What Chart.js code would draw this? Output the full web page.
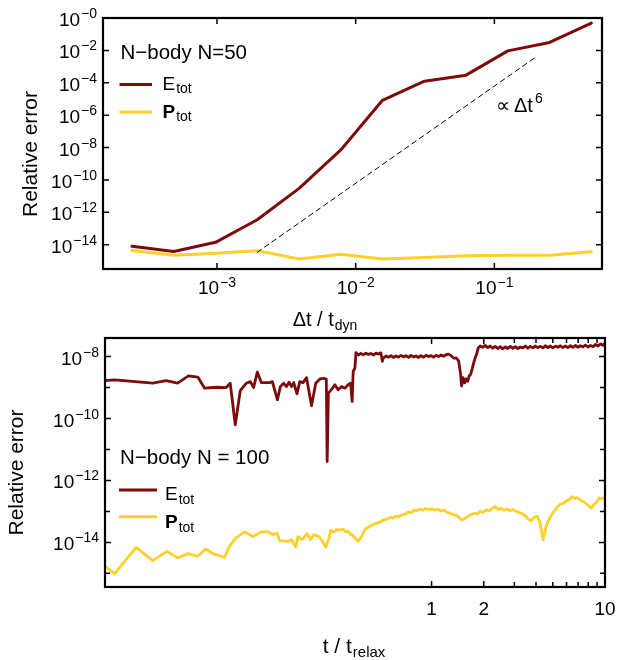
<!DOCTYPE html>
<html>
<head>
<meta charset="utf-8">
<script src="https://cdn.jsdelivr.net/npm/chart.js@4.4.1/dist/chart.umd.min.js"></script>
<style>
  body { margin: 0; background: #fff; }
  #wrap { position: relative; width: 626px; height: 660px; overflow: hidden; }
  canvas { position: absolute; left: 0; }
</style>
</head>
<body>
<div id="wrap">
  <canvas id="top" width="626" height="340" style="top:0"></canvas>
  <canvas id="bottom" width="626" height="330" style="top:330px"></canvas>
</div>
<script>
// ---- top panel: error vs step size ----
const dtSteps = [2.44e-4, 4.88e-4, 9.77e-4, 1.95e-3, 3.91e-3, 7.81e-3, 1.56e-2, 3.13e-2, 6.25e-2, 0.125, 0.25, 0.5];
const errEnergyDt = [7.9e-15, 3.8e-15, 1.4e-14, 3.5e-13, 3.0e-11, 7.1e-9, 8.3e-6, 1.26e-4, 2.95e-4, 9.3e-3, 3.1e-2, 0.49];
const errMomentumDt = [4.4e-15, 2.2e-15, 3.0e-15, 4.3e-15, 1.3e-15, 2.6e-15, 1.3e-15, 1.6e-15, 2.1e-15, 2.2e-15, 2.2e-15, 3.7e-15];
const slopeDt = [1.95e-3, 0.2];
const slopeErr = [3.4e-15, 4.0e-3];

const topYTickExp = [0, -2, -4, -6, -8, -10, -12, -14];
const topYTickText = ['\u22120', '\u22122', '\u22124', '\u22126', '\u22128', '\u221210', '\u221212', '\u221214'];
const topXTickExp = [-3, -2, -1];
const topXTickText = ['\u22123', '\u22122', '\u22121'];

// ---- bottom panel: error vs time (log10 values) ----
const logTimeE = [
  -1.887, -1.827, -1.608, -1.531, -1.464, -1.402, -1.348, -1.309, -1.242, -1.184,
  -1.161, -1.132, -1.103, -1.068, -1.045, -1.026, -1.005, -0.982, -0.934, -0.918,
  -0.889, -0.872, -0.853, -0.837, -0.822, -0.808, -0.795, -0.776, -0.760, -0.741,
  -0.721, -0.692, -0.668, -0.645, -0.625, -0.607, -0.602, -0.595, -0.571, -0.558,
  -0.539, -0.519, -0.500, -0.481, -0.467, -0.458, -0.452, -0.442,
  -0.436, -0.422, -0.408, -0.393, -0.379, -0.364, -0.350, -0.335, -0.321, -0.306,
  -0.292, -0.284, -0.278, -0.263, -0.249, -0.234, -0.220, -0.205, -0.191, -0.176,
  -0.162, -0.147, -0.133, -0.119, -0.104, -0.090, -0.075, -0.061, -0.046, -0.032,
  -0.017, -0.003, 0.012, 0.026, 0.041, 0.055, 0.069, 0.084, 0.098, 0.113,
  0.127, 0.142, 0.156, 0.167, 0.173, 0.182, 0.191, 0.199, 0.208, 0.217,
  0.225, 0.234, 0.243, 0.251, 0.260, 0.269, 0.280, 0.295, 0.309, 0.324,
  0.338, 0.353, 0.367, 0.382, 0.396, 0.410, 0.425, 0.439, 0.454, 0.468,
  0.483, 0.497, 0.512, 0.526, 0.541, 0.555, 0.569, 0.584, 0.598, 0.613,
  0.627, 0.642, 0.656, 0.671, 0.685, 0.699, 0.714, 0.728, 0.743, 0.757,
  0.772, 0.786, 0.801, 0.815, 0.830, 0.844, 0.858, 0.873, 0.887, 0.902,
  0.916, 0.931, 0.945, 0.960, 0.974, 0.988, 1.000
];
const logErrE = [
  -8.78, -8.75, -8.86, -8.78, -8.86, -8.62, -8.66, -9.02, -8.99, -9.00,
  -8.86, -10.20, -9.10, -8.86, -8.81, -9.00, -8.50, -8.84, -8.84, -8.81,
  -9.40, -8.97, -8.86, -8.97, -8.83, -8.97, -8.84, -9.20, -8.81, -8.84,
  -8.68, -9.59, -8.86, -8.73, -8.70, -8.73, -11.39, -9.18, -9.02, -8.91,
  -9.07, -8.97, -9.02, -8.91, -8.86, -9.45, -8.48, -8.37,
  -7.87, -7.95, -7.90, -7.94, -7.89, -7.93, -7.90, -7.95, -7.89, -7.92,
  -7.88, -8.15, -8.05, -7.98, -8.02, -7.97, -8.03, -7.98, -8.02, -7.96,
  -8.01, -7.97, -8.03, -7.96, -8.01, -7.98, -8.03, -7.97, -8.02, -7.96,
  -8.00, -7.97, -8.02, -7.96, -8.00, -7.95, -7.99, -7.94, -7.92, -7.97,
  -8.05, -8.04, -8.14, -8.55, -8.95, -8.68, -8.85, -8.72, -8.80, -8.62,
  -8.58, -8.40, -8.20, -8.05, -7.92, -7.72, -7.66, -7.70, -7.64, -7.71,
  -7.66, -7.73, -7.67, -7.74, -7.68, -7.75, -7.69, -7.74, -7.67, -7.73,
  -7.68, -7.74, -7.69, -7.72, -7.66, -7.73, -7.67, -7.72, -7.66, -7.71,
  -7.67, -7.72, -7.65, -7.71, -7.66, -7.72, -7.66, -7.70, -7.65, -7.71,
  -7.66, -7.71, -7.65, -7.70, -7.64, -7.70, -7.65, -7.69, -7.63, -7.69,
  -7.64, -7.68, -7.61, -7.66, -7.59, -7.64, -7.57
];
const logTimeP = [
  -1.887, -1.827, -1.704, -1.608, -1.527, -1.464, -1.402, -1.348, -1.303, -1.261,
  -1.194, -1.165, -1.130, -1.078, -1.030, -0.982, -0.943, -0.918, -0.891, -0.876,
  -0.828, -0.808, -0.783, -0.770, -0.745, -0.718, -0.698, -0.679, -0.649, -0.629,
  -0.610, -0.591, -0.583, -0.564, -0.548, -0.529, -0.510, -0.494, -0.481, -0.465,
  -0.452, -0.436, -0.423, -0.403, -0.384, -0.367, -0.346, -0.327, -0.309, -0.292,
  -0.275, -0.257, -0.240, -0.223, -0.205, -0.188, -0.171, -0.153, -0.136, -0.118,
  -0.101, -0.084, -0.066, -0.049, -0.032, -0.014, 0.003, 0.020, 0.038, 0.055,
  0.072, 0.090, 0.107, 0.124, 0.142, 0.159, 0.176, 0.194, 0.211, 0.228,
  0.246, 0.263, 0.280, 0.298, 0.315, 0.332, 0.350, 0.367, 0.384, 0.402,
  0.419, 0.436, 0.454, 0.471, 0.488, 0.506, 0.523, 0.540, 0.558, 0.575,
  0.592, 0.610, 0.624, 0.636, 0.643, 0.650, 0.659, 0.673, 0.691, 0.708,
  0.725, 0.743, 0.760, 0.777, 0.795, 0.810, 0.824, 0.841, 0.858, 0.876,
  0.893, 0.910, 0.922, 0.934, 0.951, 0.968, 0.983, 1.000
];
const logErrP = [
  -14.75, -15.01, -14.16, -14.59, -14.29, -14.50, -14.36, -14.45, -14.21, -14.36,
  -14.48, -14.13, -13.86, -13.66, -13.81, -13.66, -13.65, -13.75, -13.70, -13.94,
  -13.97, -13.91, -14.15, -13.81, -13.91, -13.72, -13.91, -13.75, -13.81, -13.97,
  -14.15, -13.86, -13.61, -13.66, -13.59, -13.60, -13.57, -13.66, -13.64, -13.75,
  -13.78, -13.90, -13.96, -13.80, -13.58, -13.52, -13.45, -13.40, -13.36, -13.33,
  -13.27, -13.25, -13.19, -13.22, -13.15, -13.17, -13.10, -13.09, -13.02, -13.04,
  -12.96, -12.98, -12.92, -12.96, -12.90, -12.95, -12.91, -12.96, -12.93, -12.99,
  -12.96, -13.03, -13.06, -13.10, -13.12, -13.20, -13.28, -13.22, -13.16, -13.10,
  -13.06, -13.08, -13.00, -13.02, -12.95, -12.98, -12.90, -12.84, -12.94, -12.90,
  -12.96, -12.92, -12.98, -12.94, -13.00, -13.04, -13.08, -13.14, -13.25, -13.30,
  -13.18, -13.16, -13.35, -13.70, -13.92, -13.75, -13.50, -13.30, -13.12, -12.98,
  -12.86, -12.76, -12.74, -12.66, -12.62, -12.52, -12.58, -12.56, -12.64, -12.68,
  -12.76, -12.84, -12.90, -12.78, -12.70, -12.56, -12.60, -12.52
];

const botYMajorExp = [-8, -10, -12, -14];
const botYMajorText = ['\u22128', '\u221210', '\u221212', '\u221214'];
const botYMinorExp = [-9, -11, -13, -15];
const botXMajor = [1, 2, 10];
const botXMajorText = ['1', '2', '10'];
const botXMinor = [3, 4, 5, 6, 7, 8, 9];

const colE = '#7d0a0a';
const colP = '#ffd02a';
const FONT = '"Liberation Sans", Arial, sans-serif';

function font(px, bold) {
    return (bold ? 'bold ' : '') + px + 'px ' + FONT;
}

// "10" with a raised exponent
function drawPow(ctx, x, baseY, supY, sup, align) {
    ctx.font = font(19);
    const w1 = ctx.measureText('10').width;
    ctx.font = font(14);
    const w2 = ctx.measureText(sup).width;
    const total = w1 + w2 + 1;
    let x0 = x;
    if (align === 'right') x0 = x - total;
    if (align === 'center') x0 = x - total / 2;
    ctx.textAlign = 'left';
    ctx.font = font(19);
    ctx.fillText('10', x0, baseY);
    ctx.font = font(14);
    ctx.fillText(sup, x0 + w1 + 1, supY);
}

// main text followed by a lowered subscript, returns the end x
function drawSub(ctx, x, y, main, sub, size, subSize, bold, drop) {
    ctx.textAlign = 'left';
    ctx.font = font(size, bold);
    ctx.fillText(main, x, y);
    const w = ctx.measureText(main).width;
    ctx.font = font(subSize);
    ctx.fillText(sub, x + w + 1, y + drop);
    return x + w + 1 + ctx.measureText(sub).width;
}

function legendLine(ctx, x1, x2, y, color) {
    ctx.strokeStyle = color;
    ctx.lineWidth = 3;
    ctx.beginPath();
    ctx.moveTo(x1, y);
    ctx.lineTo(x2, y);
    ctx.stroke();
}

function yTitle(ctx, cx, cy) {
    ctx.save();
    ctx.translate(cx, cy);
    ctx.rotate(-Math.PI / 2);
    ctx.font = font(21);
    ctx.textAlign = 'center';
    ctx.textBaseline = 'middle';
    ctx.fillText('Relative error', 0, 0);
    ctx.restore();
}

function framePlugin(cfg) {
    return {
        id: 'frame' + cfg.name,
        afterDatasetsDraw(chart) {
            const ctx = chart.ctx;
            const a = chart.chartArea;
            const xs = chart.scales.x;
            const ys = chart.scales.y;
            ctx.save();
            ctx.fillStyle = '#000';
            ctx.strokeStyle = '#000';
            ctx.lineWidth = 1.5;
            ctx.beginPath();
            cfg.yTicks.forEach(t => {
                const py = ys.getPixelForValue(t.v);
                ctx.moveTo(a.left, py); ctx.lineTo(a.left + t.len, py);
                ctx.moveTo(a.right, py); ctx.lineTo(a.right - t.len, py);
            });
            cfg.xTicks.forEach(t => {
                const px = xs.getPixelForValue(t.v);
                ctx.moveTo(px, a.bottom); ctx.lineTo(px, a.bottom - t.len);
                ctx.moveTo(px, a.top); ctx.lineTo(px, a.top + t.len);
            });
            ctx.stroke();
            ctx.lineWidth = 2.2;
            ctx.strokeRect(a.left, a.top, a.right - a.left, a.bottom - a.top);

            ctx.textBaseline = 'alphabetic';
            cfg.yLabels.forEach(l => {
                const py = ys.getPixelForValue(l.v);
                drawPow(ctx, a.left - 6, py + 8, py, l.text, 'right');
            });
            cfg.xLabels.forEach(l => {
                const px = xs.getPixelForValue(l.v);
                if (l.pow) {
                    drawPow(ctx, px, a.bottom + 25, a.bottom + 17.5, l.text, 'center');
                } else {
                    ctx.font = font(19);
                    ctx.textAlign = 'center';
                    ctx.fillText(l.text, px, a.bottom + 28);
                }
            });
            cfg.extra(ctx, chart);
            ctx.restore();
        }
    };
}

function makePanel(id, datasets, sc, pad, cfg) {
    return new Chart(document.getElementById(id), {
        type: 'line',
        data: { datasets: datasets },
        options: {
            responsive: false,
            animation: false,
            layout: { padding: pad },
            plugins: { legend: { display: false }, tooltip: { enabled: false } },
            elements: { point: { radius: 0 }, line: { tension: 0, borderJoinStyle: 'round', borderCapStyle: 'round' } },
            scales: {
                x: {
                    type: 'logarithmic', min: sc.xmin, max: sc.xmax,
                    ticks: { display: false }, grid: { display: false }, border: { display: false },
                    afterFit: s => { s.height = sc.xh; }
                },
                y: {
                    type: 'logarithmic', min: sc.ymin, max: sc.ymax,
                    ticks: { display: false }, grid: { display: false }, border: { display: false },
                    afterFit: s => { s.width = sc.yw; }
                }
            }
        },
        plugins: [framePlugin(cfg)]
    });
}

// top panel
const topE = dtSteps.map((d, i) => ({ x: d, y: errEnergyDt[i] }));
const topP = dtSteps.map((d, i) => ({ x: d, y: errMomentumDt[i] }));
const topSlope = slopeDt.map((d, i) => ({ x: d, y: slopeErr[i] }));

makePanel('top', [
    { data: topSlope, borderColor: '#000', borderWidth: 1, borderDash: [5, 4] },
    { data: topP, borderColor: colP, borderWidth: 3 },
    { data: topE, borderColor: colE, borderWidth: 3 }
], { xmin: 1.507e-4, xmax: 0.597, ymin: 3.16e-16, ymax: 1, xh: 71, yw: 103 },
   { top: 18, right: 24, left: 0, bottom: 0 },
   {
    name: 'Top',
    yTicks: topYTickExp.map(e => ({ v: Math.pow(10, e), len: 6 })),
    xTicks: topXTickExp.map(e => ({ v: Math.pow(10, e), len: 6 })),
    yLabels: topYTickExp.map((e, i) => ({ v: Math.pow(10, e), text: topYTickText[i] })),
    xLabels: topXTickExp.map((e, i) => ({ v: Math.pow(10, e), text: topXTickText[i], pow: true })),
    extra: function (ctx) {
        ctx.fillStyle = '#000';
        ctx.textAlign = 'left';
        ctx.font = font(20.5);
        ctx.fillText('N\u2212body N=50', 120.5, 58.5);
        legendLine(ctx, 119.5, 152, 84.5, colE);
        legendLine(ctx, 119.5, 152, 112, colP);
        ctx.fillStyle = '#000';
        drawSub(ctx, 162.5, 89.5, 'E', 'tot', 19, 14, false, 3.5);
        drawSub(ctx, 162.5, 117.5, 'P', 'tot', 19, 14, true, 3.5);
        // slope annotation
        ctx.font = font(20);
        ctx.textAlign = 'left';
        ctx.fillText('\u221D\u2009\u0394t', 496, 112);
        const w = ctx.measureText('\u221D\u2009\u0394t').width;
        ctx.font = font(14);
        ctx.fillText('6', 496 + w + 2, 103);
        // x title
        ctx.font = font(20);
        const t1 = '\u0394t / t';
        const wt = ctx.measureText(t1).width;
        ctx.font = font(14);
        const ws = ctx.measureText('dyn').width;
        const x0 = 325 - (wt + ws + 1) / 2;
        drawSub(ctx, x0, 326, t1, 'dyn', 20, 14, false, 4);
        yTitle(ctx, 31, 154);
    }
});

// bottom panel
const botE = logTimeE.map((t, i) => ({ x: Math.pow(10, t), y: Math.pow(10, logErrE[i]) }));
const botP = logTimeP.map((t, i) => ({ x: Math.pow(10, t), y: Math.pow(10, logErrP[i]) }));

makePanel('bottom', [
    { data: botP, borderColor: colP, borderWidth: 2.8 },
    { data: botE, borderColor: colE, borderWidth: 2.8 }
], { xmin: 0.01309, xmax: 10, ymin: 3.63e-16, ymax: 3.98e-8, xh: 73, yw: 105 },
   { top: 8, right: 21, left: 0, bottom: 0 },
   {
    name: 'Bottom',
    yTicks: botYMajorExp.map(e => ({ v: Math.pow(10, e), len: 6 }))
        .concat(botYMinorExp.map(e => ({ v: Math.pow(10, e), len: 5 }))),
    xTicks: botXMajor.map(v => ({ v: v, len: 6 }))
        .concat(botXMinor.map(v => ({ v: v, len: 5 }))),
    yLabels: botYMajorExp.map((e, i) => ({ v: Math.pow(10, e), text: botYMajorText[i] })),
    xLabels: botXMajor.map((v, i) => ({ v: v, text: botXMajorText[i], pow: false })),
    extra: function (ctx) {
        ctx.fillStyle = '#000';
        ctx.textAlign = 'left';
        ctx.font = font(20.5);
        ctx.fillText('N\u2212body N = 100', 120, 134);
        legendLine(ctx, 119, 157, 160, colE);
        legendLine(ctx, 119, 157, 186.7, colP);
        ctx.fillStyle = '#000';
        drawSub(ctx, 165, 170, 'E', 'tot', 19, 14, false, 3.5);
        drawSub(ctx, 165, 198.3, 'P', 'tot', 19, 14, true, 3.5);
        ctx.font = font(21);
        const t1 = 't / t';
        const wt = ctx.measureText(t1).width;
        ctx.font = font(15);
        const ws = ctx.measureText('relax').width;
        drawSub(ctx, 354 - (wt + ws + 1) / 2, 323, t1, 'relax', 21, 15, false, 4);
        yTitle(ctx, 17, 142.5);
    }
});
</script>
</body>
</html>
